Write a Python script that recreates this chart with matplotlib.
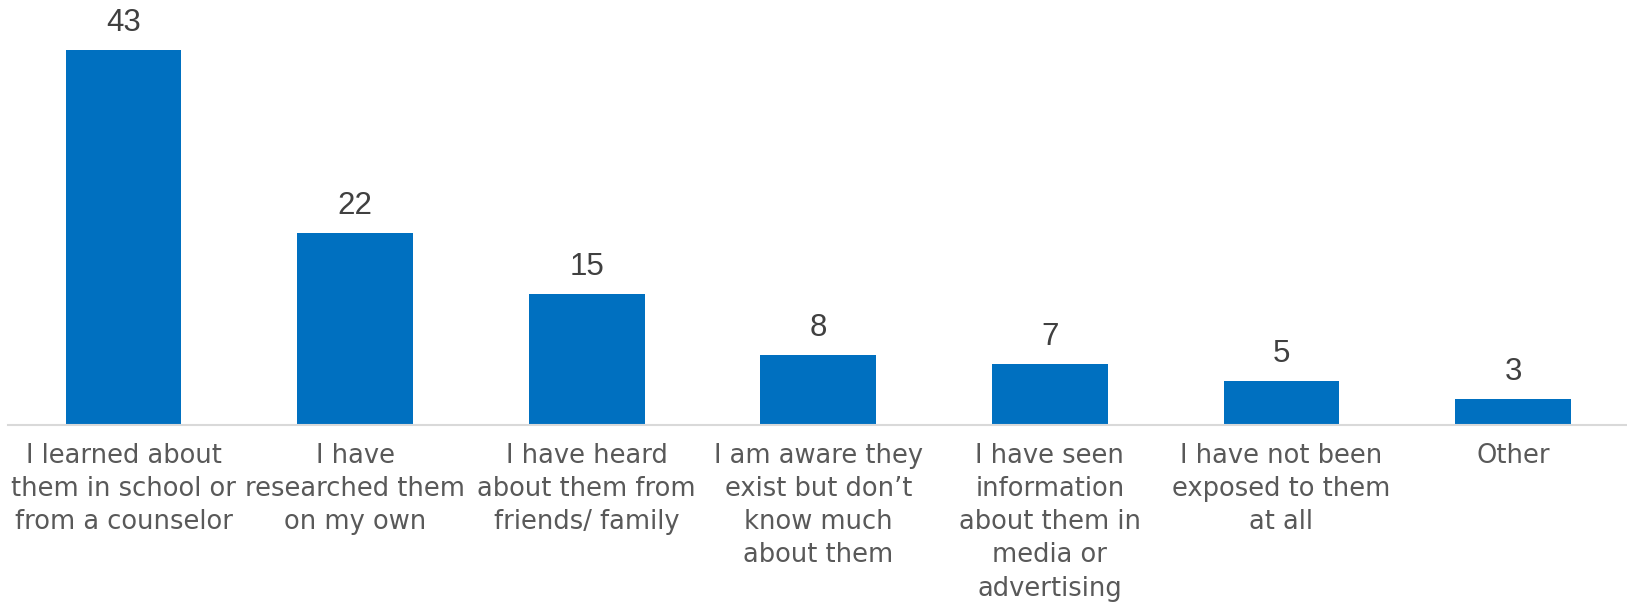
import matplotlib
matplotlib.use("Agg")
from matplotlib import pyplot as plt

categories = [
    "I learned about\nthem in school or\nfrom a counselor",
    "I have\nresearched them\non my own",
    "I have heard\nabout them from\nfriends/ family",
    "I am aware they\nexist but don\u2019t\nknow much\nabout them",
    "I have seen\ninformation\nabout them in\nmedia or\nadvertising",
    "I have not been\nexposed to them\nat all",
    "Other",
]
values = [43, 22, 15, 8, 7, 5, 3]

bar_color = "#0070C0"
text_color = "#595959"

plt.rcParams['font.family'] = ['DejaVu Sans']

fig = plt.figure(figsize=(16.27, 6.03), dpi=100)
# baseline sits ~425px from the top, axes runs edge to edge
ax = fig.add_axes([7.8 / 1627, 178.3 / 603, 1621 / 1627, 424.7 / 603])

x = range(len(values))
bars = ax.bar(x, values, width=0.5, color=bar_color)

for rect, v in zip(bars, values):
    ax.annotate(str(v), (rect.get_x() + rect.get_width() / 2, rect.get_height()),
                xytext=(0, 13.5), textcoords="offset points",
                ha="center", va="baseline", fontsize=22.5, color="#404040",
                family="Liberation Sans")

ax.set_xlim(-0.5, len(values) - 0.5)
ax.set_ylim(0, 424.7 / 8.72)
ax.set_xticks(list(x))
ax.set_xticklabels(categories, fontsize=18.5, color=text_color, linespacing=1.36, va="top")
ax.tick_params(axis="x", length=0, pad=13)
ax.set_yticks([])

for side in ("top", "right", "left"):
    ax.spines[side].set_visible(False)
ax.spines["bottom"].set_color("#D9D9D9")
ax.spines["bottom"].set_linewidth(1.5)

fig.savefig("out.png", dpi=100)
